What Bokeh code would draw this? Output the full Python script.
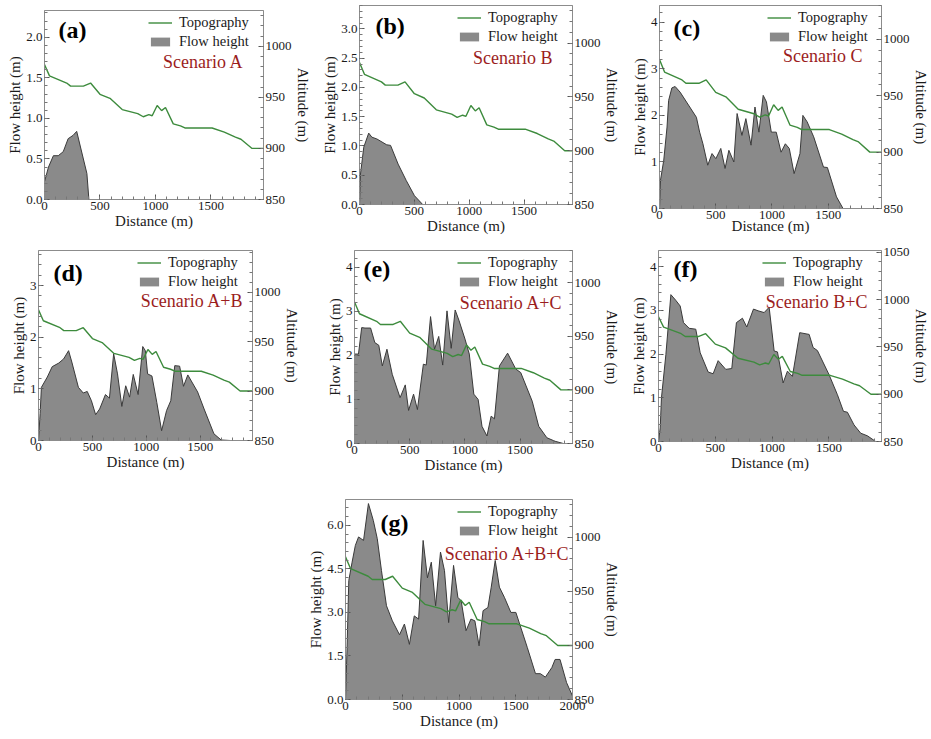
import numpy as np
from bokeh.plotting import figure
from bokeh.models import (Range1d, LinearAxis, FixedTicker, NumeralTickFormatter,
                          Legend, LegendItem, Label, Spacer)
from bokeh.layouts import row, column
from bokeh.embed import file_html
from bokeh.resources import INLINE

# ---------------- data ----------------
topo_dist = [0, 45, 200, 235, 350, 415, 500, 590, 700, 840, 890, 940, 970, 1015, 1055,
             1090, 1160, 1225, 1265, 1510, 1620, 1720, 1770, 1870, 2000]
topo_alt = [982, 971, 964, 961, 961, 964, 953, 949, 938, 934, 931, 933, 932, 942, 937,
            940, 924, 922, 920, 920, 916, 911, 909, 900, 900]

dist_a = [0, 0, 36, 80, 124, 169, 213, 257, 290, 382, 400]
flow_a = [0, 0.22, 0.40, 0.54, 0.54, 0.59, 0.75, 0.79, 0.84, 0.32, 0]

dist_b = [0, 9, 39, 84, 113, 158, 248, 283, 352, 426, 501, 576]
flow_b = [0, 0.52, 0.98, 1.22, 1.15, 1.12, 1.02, 1.01, 0.69, 0.41, 0.15, 0]

dist_c = [0, 9, 38, 67, 81, 110, 139, 183, 328, 357, 386, 429, 467, 501, 545, 583, 617, 661,
          690, 733, 768, 814, 849, 884, 922, 951, 994, 1038, 1081, 1119, 1154, 1197, 1249,
          1275, 1313, 1371, 1458, 1493, 1574, 1632]
flow_c = [0, 0.61, 1.04, 1.75, 2.32, 2.59, 2.62, 2.50, 1.96, 1.64, 1.39, 0.93, 1.18, 1.07,
          1.29, 0.86, 1.25, 1.00, 2.04, 1.57, 1.93, 1.36, 2.18, 1.64, 2.43, 2.29, 1.64, 1.64,
          1.21, 1.39, 1.29, 0.75, 1.18, 2.00, 1.86, 1.54, 0.89, 0.88, 0.25, 0]

dist_d = [0, 15, 27, 82, 127, 188, 233, 279, 309, 370, 415, 452, 491, 530, 567, 621, 658,
          697, 733, 773, 809, 845, 879, 924, 967, 991, 1012, 1052, 1097, 1142, 1188, 1227,
          1264, 1309, 1345, 1385, 1476, 1536, 1627, 1694, 1779]
flow_d = [0, 0.52, 1.03, 1.23, 1.43, 1.50, 1.58, 1.74, 1.52, 1.03, 0.92, 0.95, 0.77, 0.50,
          0.61, 0.89, 0.82, 1.68, 1.29, 0.66, 1.06, 0.84, 1.28, 0.89, 1.82, 1.74, 1.29, 1.25,
          0.74, 0.19, 0.58, 0.77, 1.45, 1.44, 1.05, 1.27, 0.94, 0.61, 0.13, 0.01, 0]

dist_e = [0, 0, 36, 65, 95, 146, 184, 220, 252, 294, 342, 413, 460, 490, 535, 570, 624, 650,
          689, 725, 763, 799, 838, 876, 912, 947, 1001, 1040, 1081, 1120, 1155, 1200, 1238,
          1268, 1313, 1387, 1461, 1506, 1610, 1669, 1743, 1818, 1892]
flow_e = [0, 2.03, 2.03, 2.63, 2.62, 2.62, 2.29, 2.23, 1.76, 2.14, 1.57, 1.04, 1.33, 0.75,
          1.12, 0.77, 1.80, 1.78, 2.88, 2.14, 2.43, 1.78, 3.01, 2.16, 3.03, 2.79, 2.37, 2.03,
          1.12, 1.00, 0.39, 0.17, 0.62, 0.56, 1.76, 2.05, 1.69, 1.61, 0.96, 0.39, 0.13, 0.05, 0]

dist_f = [0, 15, 26, 65, 109, 152, 191, 220, 270, 328, 367, 437, 481, 525, 592, 645, 686,
          739, 777, 836, 877, 930, 974, 1018, 1047, 1097, 1135, 1179, 1243, 1326, 1361, 1399,
          1501, 1575, 1628, 1663, 1721, 1780, 1839, 1912]
flow_f = [0, 0.31, 1.00, 1.99, 3.36, 3.23, 3.10, 2.72, 2.59, 2.57, 2.03, 1.59, 1.55, 1.85,
          1.65, 1.67, 2.72, 2.82, 2.62, 3.03, 2.99, 2.95, 3.07, 2.07, 2.05, 1.34, 1.61, 1.49,
          2.49, 2.45, 2.15, 2.08, 1.53, 1.07, 0.69, 0.67, 0.38, 0.19, 0.13, 0]

dist_g = [0, 14, 29, 58, 87, 115, 159, 202, 245, 280, 317, 361, 413, 476, 519, 563, 606, 644,
          684, 722, 756, 794, 837, 872, 909, 952, 990, 1019, 1062, 1105, 1140, 1177, 1212,
          1255, 1284, 1319, 1356, 1400, 1457, 1501, 1602, 1674, 1717, 1761, 1818, 1847, 1890,
          1948, 2000]
flow_g = [0, 1.79, 4.10, 4.73, 5.31, 5.60, 5.48, 6.75, 6.17, 5.54, 4.44, 3.23, 2.71, 2.23,
          2.60, 1.90, 2.88, 2.77, 5.48, 4.19, 4.73, 3.23, 5.08, 4.44, 2.65, 4.62, 3.52, 3.40,
          2.37, 2.77, 2.71, 1.85, 3.06, 3.17, 3.87, 4.79, 3.87, 3.52, 3.00, 3.00, 1.79, 0.89,
          0.89, 0.77, 1.10, 1.38, 1.38, 0.58, 0.12]

x_ticks = [0, 500, 1000, 1500, 2000]
alt_ticks = [850, 900, 950, 1000, 1050]
ticks_a = [0.0, 0.5, 1.0, 1.5, 2.0]
ticks_b = [0.0, 0.5, 1.0, 1.5, 2.0, 2.5, 3.0]
ticks_int = [0, 1, 2, 3, 4]
ticks_g = [0.0, 1.5, 3.0, 4.5, 6.0]

# ---------------- style ----------------
SERIF = "Liberation Serif"
GREEN = "#3d8b3d"
FILL = "#8a8a8a"
EDGE = "#3a3a3a"
RED = "#9b1d1d"
AXC = "#8c8c8c"
TXT = "#1a1a1a"


def style_axis(ax, label_standoff=0):
    ax.axis_line_color = AXC
    ax.major_tick_in = 5
    ax.major_tick_out = 0
    ax.minor_tick_in = 3
    ax.minor_tick_out = 0
    ax.major_tick_line_color = "#555555"
    ax.minor_tick_line_color = "#777777"
    ax.major_label_text_font = SERIF
    ax.major_label_text_font_size = "13px"
    ax.major_label_text_color = TXT
    ax.axis_label_text_font = SERIF
    ax.axis_label_text_font_size = "15px"
    ax.axis_label_text_font_style = "normal"
    ax.axis_label_text_color = TXT
    ax.major_label_standoff = 2
    ax.axis_label_standoff = label_standoff


def panel(tag, scen, dist, flow, w, h, bl, br, bt, bb, xmax, ymax, yticks, ystep, yfmt,
          altmax, tag_off, scen_off, xstand=0):
    p = figure(width=w, height=h, output_backend="svg", toolbar_location=None,
               x_range=Range1d(0, xmax), y_range=Range1d(0, ymax),
               min_border_left=bl, min_border_right=br, min_border_top=bt,
               min_border_bottom=bb, x_axis_label="Distance (m)",
               y_axis_label="Flow height (m)", frame_align=False)
    p.xgrid.visible = False
    p.ygrid.visible = False
    p.outline_line_color = AXC
    p.background_fill_color = "white"
    p.border_fill_color = "white"
    p.extra_y_ranges = {"alt": Range1d(850, altmax)}

    area = p.varea(x=dist, y1=0, y2=flow, fill_color=FILL)
    p.line(x=dist, y=flow, line_color=EDGE, line_width=1)
    topo = p.line(x=topo_dist, y=topo_alt, y_range_name="alt", line_color=GREEN,
                  line_width=1.4)

    xa = p.xaxis[0]
    xa.ticker = FixedTicker(ticks=x_ticks, minor_ticks=list(np.arange(0, 2001, 100)))
    style_axis(xa, xstand)
    ya = p.yaxis[0]
    ya.ticker = FixedTicker(ticks=yticks,
                            minor_ticks=list(np.round(np.arange(0, ymax + 1e-9, ystep), 3)))
    ya.formatter = NumeralTickFormatter(format=yfmt)
    style_axis(ya)
    ra = LinearAxis(y_range_name="alt", axis_label="Altitude (m)",
                    ticker=FixedTicker(ticks=alt_ticks,
                                       minor_ticks=list(np.arange(850, 1060, 10))))
    style_axis(ra)
    p.add_layout(ra, "right")

    fw = w - bl - br
    fh = h - bt - bb
    leg = Legend(items=[LegendItem(label="Topography", renderers=[topo]),
                        LegendItem(label="Flow height", renderers=[area])],
                 location=(fw - 17 - 102, fh - 4 - 36), margin=0, padding=0, spacing=2,
                 glyph_width=24, glyph_height=11, label_height=17, label_standoff=7,
                 label_text_font=SERIF, label_text_font_size="14.5px",
                 label_text_color=TXT, background_fill_alpha=0, border_line_alpha=0)
    p.add_layout(leg)

    p.add_layout(Label(x=tag_off[0], y=fh - tag_off[1], x_units="screen", y_units="screen",
                       text=tag, text_font=SERIF, text_font_size="24px",
                       text_font_style="bold", text_color="black",
                       text_baseline="middle", text_align="left"))
    p.add_layout(Label(x=fw - scen_off[0], y=fh - scen_off[1], x_units="screen",
                       y_units="screen", text=scen, text_font=SERIF,
                       text_font_size="18px", text_color=RED,
                       text_baseline="middle", text_align="right"))
    return p


pa = panel("(a)", "Scenario A", dist_a, flow_a, 313, 245, 44, 46, 10, 46, 1973, 2.33,
           ticks_a, 0.1, "0.0", 1035, (14, 19), (24, 51))
pb = panel("(b)", "Scenario B", dist_b, flow_b, 309, 245, 46, 46, 5, 41, 1941, 3.40,
           ticks_b, 0.1, "0.0", 1035, (16, 20), (24, 52))
pc = panel("(c)", "Scenario C", dist_c, flow_c, 309, 245, 37, 45, 5, 37, 1974, 4.36,
           ticks_int, 0.2, "0", 1030, (14, 22), (24, 50), xstand=-4)
pd = panel("(d)", "Scenario A+B", dist_d, flow_d, 302, 244, 38, 46, 5, 49, 1985, 3.68,
           ticks_int, 0.2, "0", 1042, (15, 22), (13, 50))
pe = panel("(e)", "Scenario A+C", dist_e, flow_e, 320, 244, 52, 46, 5, 46, 1975, 4.38,
           ticks_int, 0.2, "0", 1030, (9, 18), (14, 52))
pf = panel("(f)", "Scenario B+C", dist_f, flow_f, 309, 244, 36, 50, 5, 48, 1963, 4.37,
           ticks_int, 0.2, "0", 1052, (15, 18), (14, 51))
pg = panel("(g)", "Scenario A+B+C", dist_g, flow_g, 322, 250, 45, 46, 10, 40, 2000, 6.89,
           ticks_g, 0.3, "0.0", 1035, (35, 23), (7, 54))

layout = column(row(pa, pb, pc), row(pd, pe, pf),
                row(Spacer(width=300, height=250), pg, Spacer(width=309, height=250)))

open("out.html", "w").write(file_html(layout, INLINE))
